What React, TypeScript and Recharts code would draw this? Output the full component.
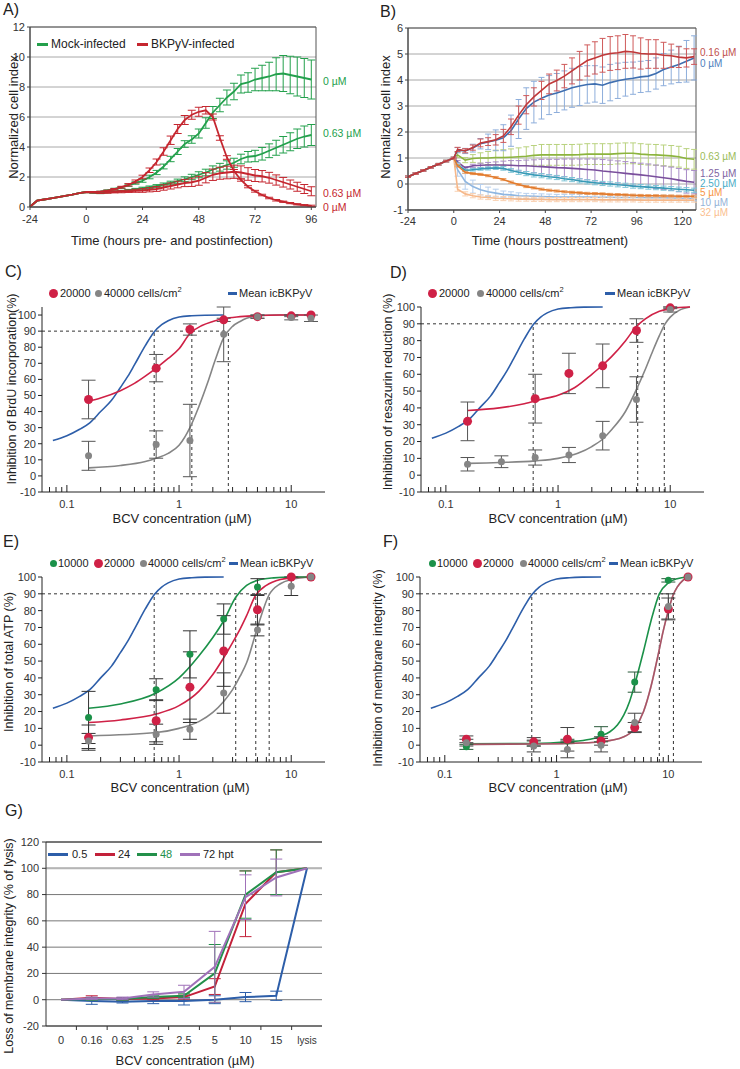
import React from 'react';
import {
  LineChart, ComposedChart, Line, Scatter, XAxis, YAxis, CartesianGrid,
  ErrorBar, ReferenceLine, ReferenceArea,
} from 'recharts';

const FONT = '"Liberation Sans", Arial, Helvetica, sans-serif';
const INK = '#222';
const TICK = { fontSize: 11, fill: '#333' };

// ---------- A) cell index, mock vs BKPyV ----------
const TIME_A = [-24, -21, -18, -15, -12, -9, -6, -3, 0, 3, 6, 9, 12, 15, 18, 21, 24, 27, 30, 33, 36, 39, 42, 45, 48, 51, 54, 57, 60, 63, 66, 69, 72, 75, 78, 81, 84, 87, 90, 93, 96];
const TICKS_A = [-24, 0, 24, 48, 72, 96];
const PRE_A = [0.02, 0.42, 0.5, 0.58, 0.66, 0.74, 0.82, 0.92, 1.0];
const MOCK_0 = [1.0, 1.02, 1.1, 1.2, 1.3, 1.45, 1.6, 1.75, 2.0, 2.3, 2.7, 3.2, 3.7, 4.2, 4.5, 4.9, 5.6, 6.3, 6.8, 7.3, 7.7, 8.2, 8.3, 8.5, 8.6, 8.7, 8.85, 8.9, 8.8, 8.7, 8.6, 8.5];
const MOCK_0_ERR = [0.02, 0.03, 0.04, 0.05, 0.06, 0.07, 0.08, 0.1, 0.12, 0.14, 0.16, 0.18, 0.2, 0.22, 0.25, 0.3, 0.35, 0.4, 0.45, 0.5, 0.55, 0.6, 0.65, 0.75, 0.85, 0.95, 1.1, 1.2, 1.25, 1.3, 1.3, 1.3];
const MOCK_063 = [0.95, 0.92, 0.98, 1.02, 1.06, 1.12, 1.18, 1.25, 1.32, 1.4, 1.5, 1.6, 1.72, 1.85, 2.0, 2.15, 2.3, 2.5, 2.65, 2.8, 2.95, 3.2, 3.35, 3.4, 3.55, 3.75, 3.95, 4.15, 4.35, 4.55, 4.7, 4.8];
const MOCK_063_ERR = [0.03, 0.03, 0.04, 0.04, 0.05, 0.05, 0.06, 0.07, 0.08, 0.09, 0.1, 0.12, 0.14, 0.16, 0.18, 0.2, 0.22, 0.24, 0.26, 0.28, 0.3, 0.32, 0.35, 0.38, 0.42, 0.46, 0.5, 0.55, 0.6, 0.65, 0.7, 0.7];
const BK_0 = [1.0, 1.02, 1.08, 1.18, 1.32, 1.48, 1.7, 2.0, 2.45, 3.0, 3.7, 4.45, 5.2, 5.8, 6.15, 6.35, 6.45, 6.0, 4.6, 3.3, 2.4, 1.8, 1.35, 1.05, 0.8, 0.6, 0.45, 0.35, 0.26, 0.18, 0.12, 0.08];
const BK_0_ERR = [0.03, 0.03, 0.04, 0.05, 0.06, 0.08, 0.1, 0.12, 0.15, 0.2, 0.25, 0.28, 0.3, 0.3, 0.3, 0.3, 0.25, 0.2, 0.15, 0.12, 0.1, 0.08, 0.07, 0.06, 0.05, 0.05, 0.05, 0.04, 0.04, 0.04, 0.04, 0.04];
const BK_063 = [0.97, 0.95, 0.97, 1.0, 1.02, 1.05, 1.08, 1.1, 1.15, 1.2, 1.3, 1.4, 1.5, 1.6, 1.65, 1.75, 1.95, 2.15, 2.25, 2.3, 2.35, 2.3, 2.2, 2.1, 2.05, 1.95, 1.8, 1.65, 1.5, 1.35, 1.2, 1.05];
const BK_063_ERR = [0.03, 0.04, 0.05, 0.06, 0.07, 0.08, 0.1, 0.12, 0.14, 0.16, 0.18, 0.2, 0.22, 0.24, 0.28, 0.3, 0.34, 0.38, 0.4, 0.42, 0.44, 0.44, 0.42, 0.4, 0.38, 0.36, 0.34, 0.32, 0.3, 0.3, 0.3, 0.3];

// ---------- B) cell index after BCV treatment ----------
const TIME_B = [-24, -20, -16, -12, -8, -4, 0, 2, 6, 10, 14, 18, 22, 26, 30, 34, 38, 42, 46, 50, 54, 58, 62, 66, 70, 74, 78, 82, 86, 90, 94, 98, 102, 106, 110, 114, 118, 122, 126];
const TICKS_B = [-24, 0, 24, 48, 72, 96, 120];
const PRE_B = [0.28, 0.4, 0.52, 0.64, 0.76, 0.88, 1.0];
const PRE_B_ERR = [0.03, 0.03, 0.03, 0.03, 0.03, 0.03, 0.03];
const B_0 = [1.3, 1.27, 1.38, 1.55, 1.62, 1.68, 1.78, 2.05, 2.5, 2.9, 3.15, 3.3, 3.42, 3.5, 3.6, 3.7, 3.77, 3.83, 3.85, 3.8, 3.9, 3.97, 4.03, 4.07, 4.12, 4.15, 4.25, 4.4, 4.5, 4.6, 4.72, 4.85];
const B_0_ERR = [0.1, 0.1, 0.15, 0.2, 0.3, 0.4, 0.5, 0.6, 0.75, 0.8, 0.8, 0.8, 0.75, 0.75, 0.75, 0.75, 0.75, 0.72, 0.7, 0.7, 0.7, 0.68, 0.65, 0.62, 0.6, 0.6, 0.6, 0.62, 0.65, 0.7, 0.8, 0.85];
const B_016 = [1.33, 1.28, 1.4, 1.58, 1.63, 1.7, 1.85, 2.2, 2.65, 3.05, 3.35, 3.6, 3.85, 3.98, 4.15, 4.35, 4.55, 4.75, 4.85, 4.95, 5.02, 5.05, 5.1, 5.08, 5.02, 5.0, 5.0, 4.95, 4.93, 4.88, 4.85, 4.9];
const B_016_ERR = [0.08, 0.08, 0.1, 0.15, 0.15, 0.2, 0.25, 0.3, 0.35, 0.35, 0.35, 0.35, 0.38, 0.4, 0.45, 0.5, 0.55, 0.6, 0.62, 0.65, 0.65, 0.65, 0.65, 0.62, 0.6, 0.55, 0.55, 0.5, 0.45, 0.4, 0.35, 0.3];
const B_063 = [1.12, 0.92, 0.98, 1.0, 1.0, 1.02, 1.02, 1.03, 1.05, 1.07, 1.1, 1.12, 1.12, 1.12, 1.12, 1.12, 1.13, 1.15, 1.15, 1.15, 1.15, 1.17, 1.18, 1.18, 1.15, 1.13, 1.12, 1.1, 1.08, 1.05, 0.98, 0.95];
const B_063_ERR = [0.1, 0.1, 0.15, 0.2, 0.25, 0.28, 0.3, 0.32, 0.34, 0.36, 0.38, 0.4, 0.4, 0.4, 0.4, 0.4, 0.4, 0.4, 0.4, 0.4, 0.4, 0.4, 0.4, 0.4, 0.4, 0.4, 0.4, 0.4, 0.4, 0.4, 0.38, 0.38];
const B_125 = [0.85, 0.62, 0.7, 0.72, 0.73, 0.73, 0.73, 0.72, 0.7, 0.7, 0.68, 0.67, 0.65, 0.63, 0.62, 0.6, 0.58, 0.56, 0.54, 0.5, 0.47, 0.44, 0.41, 0.38, 0.35, 0.32, 0.28, 0.24, 0.2, 0.15, 0.1, 0.07];
const B_125_ERR = [0.05, 0.05, 0.06, 0.08, 0.1, 0.12, 0.15, 0.18, 0.2, 0.22, 0.25, 0.28, 0.3, 0.32, 0.34, 0.36, 0.38, 0.4, 0.42, 0.44, 0.45, 0.45, 0.45, 0.45, 0.45, 0.45, 0.45, 0.45, 0.45, 0.45, 0.45, 0.45];
const B_250 = [0.75, 0.52, 0.55, 0.58, 0.6, 0.62, 0.6, 0.52, 0.45, 0.4, 0.35, 0.32, 0.28, 0.25, 0.2, 0.17, 0.12, 0.08, 0.05, 0.02, 0.0, -0.03, -0.05, -0.08, -0.1, -0.12, -0.14, -0.16, -0.18, -0.2, -0.22, -0.24];
const B_250_ERR = [0.05, 0.05, 0.05, 0.05, 0.06, 0.06, 0.07, 0.07, 0.08, 0.08, 0.08, 0.08, 0.08, 0.08, 0.08, 0.08, 0.08, 0.08, 0.08, 0.08, 0.08, 0.08, 0.08, 0.08, 0.08, 0.08, 0.08, 0.08, 0.08, 0.08, 0.08, 0.08];
const B_5 = [0.7, 0.45, 0.4, 0.37, 0.32, 0.25, 0.17, 0.07, -0.02, -0.1, -0.15, -0.2, -0.24, -0.27, -0.3, -0.32, -0.34, -0.36, -0.37, -0.38, -0.4, -0.41, -0.42, -0.43, -0.44, -0.45, -0.45, -0.46, -0.46, -0.47, -0.47, -0.47];
const B_5_ERR = [0.04, 0.04, 0.04, 0.04, 0.04, 0.04, 0.04, 0.04, 0.04, 0.04, 0.04, 0.04, 0.04, 0.04, 0.04, 0.04, 0.04, 0.04, 0.04, 0.04, 0.04, 0.04, 0.04, 0.04, 0.04, 0.04, 0.04, 0.04, 0.04, 0.04, 0.04, 0.04];
const B_10 = [0.55, 0.1, -0.1, -0.22, -0.3, -0.35, -0.4, -0.42, -0.45, -0.46, -0.47, -0.48, -0.49, -0.5, -0.5, -0.5, -0.5, -0.5, -0.51, -0.51, -0.51, -0.52, -0.52, -0.52, -0.52, -0.53, -0.53, -0.53, -0.54, -0.54, -0.55, -0.55];
const B_10_ERR = [0.25, 0.3, 0.25, 0.2, 0.18, 0.15, 0.13, 0.12, 0.11, 0.1, 0.1, 0.1, 0.1, 0.1, 0.1, 0.1, 0.1, 0.1, 0.1, 0.1, 0.1, 0.1, 0.1, 0.1, 0.1, 0.1, 0.1, 0.1, 0.1, 0.1, 0.1, 0.1];
const B_32 = [-0.2, -0.38, -0.45, -0.5, -0.52, -0.55, -0.56, -0.57, -0.58, -0.58, -0.59, -0.59, -0.6, -0.6, -0.6, -0.6, -0.6, -0.6, -0.6, -0.61, -0.61, -0.61, -0.61, -0.61, -0.62, -0.62, -0.62, -0.62, -0.62, -0.62, -0.62, -0.62];
const B_32_ERR = [0.08, 0.08, 0.08, 0.08, 0.08, 0.08, 0.08, 0.08, 0.08, 0.08, 0.08, 0.08, 0.08, 0.08, 0.08, 0.08, 0.08, 0.08, 0.08, 0.08, 0.08, 0.08, 0.08, 0.08, 0.08, 0.08, 0.08, 0.08, 0.08, 0.08, 0.08, 0.08];

// ---------- C-F) dose response (BCV concentration, log axis) ----------
const CONC = [0.156, 0.625, 1.25, 2.5, 5, 10, 15];
const CONC_D_GRAY = [0.156, 0.3125, 0.625, 1.25, 2.5, 5, 10];
const CONC_D_RED = [0.156, 0.625, 1.25, 2.5, 5, 10];
const LOG_TICKS = [0.07, 0.08, 0.09, 0.1, 0.2, 0.3, 0.4, 0.5, 0.6, 0.7, 0.8, 0.9, 1, 2, 3, 4, 5, 6, 7, 8, 9, 10];
const LOG_LABELS = [0.1, 1, 10];
const PCT_TICKS = [-10, 0, 10, 20, 30, 40, 50, 60, 70, 80, 90, 100];

// mean icBKPyV curve (same in C-F)
const ICBK_X = [0.075, 0.1, 0.13, 0.16, 0.2, 0.25, 0.3, 0.35, 0.4, 0.5, 0.6, 0.7, 0.8, 1, 1.3, 1.7, 2.5];
const ICBK_Y = [22, 25, 29, 33, 40, 47, 55, 62, 69, 81, 89.5, 94, 96.5, 98.8, 99.6, 99.9, 100];

// C) BrdU
const C_RED = [47.5, 67, 91, 97, 99, 99.5, 100];
const C_RED_ERR = [12, 8.5, 3.5, 1, 1, 0.5, 0];
const C_GRAY = [12.5, 19.5, 22, 88, 99, 98.5, 98];
const C_GRAY_ERR = [9, 8.5, 22.5, 17, 1, 1.5, 2];
const C_RED_FIT_X = [0.156, 0.2, 0.3, 0.4, 0.5, 0.625, 0.8, 1, 1.25, 1.6, 2, 2.5, 3.5, 5, 8, 15];
const C_RED_FIT_Y = [46.5, 48.5, 53, 57.5, 62, 67, 73, 79, 88.5, 93.5, 96, 97.8, 99, 99.7, 100, 100];
const C_GRAY_FIT_X = [0.156, 0.3, 0.5, 0.625, 0.8, 1, 1.25, 1.5, 1.8, 2.1, 2.5, 3, 3.5, 4, 5, 7, 15];
const C_GRAY_FIT_Y = [5, 6.5, 9, 11, 14, 19, 30, 43, 58, 72, 86, 93, 96, 98, 99.5, 100, 100];
const C_IC90 = [0.6, 1.3, 2.75];

// D) resazurin
const D_RED = [32, 45.5, 60.5, 65, 86, 99.5];
const D_RED_ERR = [11.5, 14.5, 12, 13, 7, 0.5];
const D_GRAY = [6.5, 8, 10.5, 12, 23.5, 45, 98.5];
const D_GRAY_ERR = [4, 3.5, 4.5, 4.5, 8.5, 13.5, 1.5];
const D_RED_FIT_X = [0.156, 0.3, 0.5, 0.7, 1, 1.4, 2, 2.5, 3, 4, 5, 6, 8, 10, 12, 15];
const D_RED_FIT_Y = [38.5, 40, 42.5, 45, 47.5, 52, 60, 65.5, 70.5, 80, 88.5, 93, 97.5, 99, 99.7, 100];
const D_GRAY_FIT_X = [0.156, 0.3, 0.625, 1, 1.5, 2, 2.5, 3, 4, 5, 6, 7, 8, 9, 10, 12, 15];
const D_GRAY_FIT_Y = [7, 7.5, 8.5, 10, 13, 17, 21.5, 27, 38, 51, 63, 74, 83, 90, 94, 98, 100];
const D_IC90 = [0.6, 5.13, 8.85];

// E) total ATP
const E_GREEN = [16.5, 33, 54, 75, 94, 100, 100];
const E_GREEN_ERR = [15.5, 6.5, 14, 9, 5, 0, 0];
const E_RED = [4.5, 14.5, 34.5, 56, 80.5, 100, 100];
const E_RED_ERR = [7.5, 12.5, 21, 21, 9, 0, 0];
const E_GRAY = [2.5, 6.5, 9.5, 31, 68.5, 94.5, 100];
const E_GRAY_ERR = [4.5, 6, 6, 12, 3.5, 5.5, 0];
const E_GREEN_FIT_X = [0.156, 0.3, 0.625, 1, 1.5, 2, 2.5, 3.2, 4, 5, 7, 10, 15];
const E_GREEN_FIT_Y = [22, 24.5, 31, 40, 53, 64, 74, 88, 95, 98, 99.5, 100, 100];
const E_RED_FIT_X = [0.156, 0.3, 0.625, 1, 1.5, 2, 2.5, 3, 3.5, 4, 4.8, 6, 8, 10, 15];
const E_RED_FIT_Y = [13.5, 15, 18.5, 23.5, 32, 42, 52, 61, 69, 77, 89, 95, 98.5, 99.5, 100];
const E_GRAY_FIT_X = [0.156, 0.625, 1, 1.5, 2, 2.5, 3, 3.5, 4, 5, 6.3, 8, 10, 15];
const E_GRAY_FIT_Y = [5.5, 7.5, 10, 14, 19.5, 26, 33, 41, 49, 70, 89, 96, 98.5, 100];
const E_IC90 = [0.6, 3.2, 4.83, 6.36];

// F) membrane integrity
const F_GREEN = [-1, 1, 2.5, 6.5, 37.5, 98, 100];
const F_GREEN_ERR = [1.5, 1.5, 1, 4.5, 6, 1, 0];
const F_RED = [3.5, 2, 3.5, 2.5, 10.5, 81, 100];
const F_RED_ERR = [2, 2.5, 7, 2.5, 3, 6.5, 0];
const F_GRAY = [1.5, -0.5, -2.5, 0, 13.5, 82.5, 100];
const F_GRAY_ERR = [2, 3.5, 5, 4, 5.5, 7.5, 0];
const F_GREEN_FIT_X = [0.156, 0.625, 1.25, 2, 2.5, 3, 3.5, 4, 4.5, 5, 6, 7, 8.3, 10, 12, 15];
const F_GREEN_FIT_Y = [0.8, 1, 2, 3.5, 5.5, 8, 12, 18, 26, 36, 56, 74, 90, 96.5, 99, 100];
const F_RED_FIT_X = [0.156, 0.625, 1.25, 2.5, 4, 5, 6, 7, 8, 9, 10, 11, 12, 13.5, 15];
const F_RED_FIT_Y = [0.5, 0.7, 1, 2, 5, 10, 20, 35, 52, 68, 80, 89, 94, 98, 100];
const F_IC90 = [0.6, 8.3, 11.1];

// ---------- G) LDH release ----------
const G_CATS = ['0', '0.16', '0.63', '1.25', '2.5', '5', '10', '15', 'lysis'];
const G_05 = [0, -1, -1.5, -1, -1, 0, 2, 3, 100];
const G_05_ERR = [0, 2.5, 1, 2, 3, 3, 3.5, 3.5, 0];
const G_24 = [0, 1.5, 0.5, 1, 2, 10, 73, 97, 100];
const G_24_ERR = [0, 1.5, 1, 1, 1.5, 6, 25, 17, 0];
const G_48 = [0, 0.5, 0.5, 2, 3, 20, 80, 97, 100];
const G_48_ERR = [0, 1, 1, 1, 1.5, 22, 18, 17, 0];
const G_72 = [0, 1, 1, 4, 6, 25, 78, 93, 100];
const G_72_ERR = [0, 1, 1, 2, 5, 27, 17, 14, 0];

// colours
const A_GREEN = '#23a04c';
const A_RED = '#c5262f';
const RED = '#cf2146';
const GRAY = '#858585';
const GREEN = '#1b9149';
const BLUE = '#2d5ea9';

const B_SERIES = [
  { key: 'c063', label: '0.63 µM', values: B_063, err: B_063_ERR, color: '#8cb43e', errColor: '#b9d27f', labelColor: '#9bbb59', ly: 157 },
  { key: 'c125', label: '1.25 µM', values: B_125, err: B_125_ERR, color: '#7a4f9c', errColor: '#a88cc6', labelColor: '#8064a2', ly: 174 },
  { key: 'c250', label: '2.50 µM', values: B_250, err: B_250_ERR, color: '#379ab6', errColor: '#7ec4d6', labelColor: '#4bacc6', ly: 184 },
  { key: 'c10', label: '10 µM', values: B_10, err: B_10_ERR, color: '#8fb6e0', errColor: '#b6cfee', labelColor: '#95b3d7', ly: 202.5 },
  { key: 'c32', label: '32 µM', values: B_32, err: B_32_ERR, color: '#f6b88a', errColor: '#f9d0b0', labelColor: '#fac090', ly: 213 },
  { key: 'c5', label: '5 µM', values: B_5, err: B_5_ERR, color: '#e17a2c', errColor: '#eea46a', labelColor: '#f79646', ly: 193 },
  { key: 'c0', label: '0 µM', values: B_0, err: B_0_ERR, color: '#3f6fb0', errColor: '#8eaedb', labelColor: '#4f81bd', ly: 64 },
  { key: 'c016', label: '0.16 µM', values: B_016, err: B_016_ERR, color: '#c0393a', errColor: '#cf5a5a', labelColor: '#c0504d', ly: 52.5 },
];

const DATA_A = TIME_A.map((t, i) => {
  const j = i - PRE_A.length;
  if (j < 0) return { t, g0: PRE_A[i], g63: PRE_A[i], r0: PRE_A[i], r63: PRE_A[i] };
  return {
    t,
    g0: MOCK_0[j], g0e: MOCK_0_ERR[j],
    g63: MOCK_063[j], g63e: MOCK_063_ERR[j],
    r0: BK_0[j], r0e: BK_0_ERR[j],
    r63: BK_063[j], r63e: BK_063_ERR[j],
  };
});

const DATA_B = TIME_B.map((t, i) => {
  const row: any = { t };
  const j = i - PRE_B.length;
  B_SERIES.forEach((s) => {
    row[s.key] = j < 0 ? PRE_B[i] : s.values[j];
    row[s.key + 'e'] = j < 0 ? PRE_B_ERR[i] : s.err[j];
  });
  return row;
});

const DATA_G = G_CATS.map((c, i) => ({
  c,
  h05: G_05[i], h05e: G_05_ERR[i],
  h24: G_24[i], h24e: G_24_ERR[i],
  h48: G_48[i], h48e: G_48_ERR[i],
  h72: G_72[i], h72e: G_72_ERR[i],
}));

const curve = (xs: number[], ys: number[]) => xs.map((x, i) => ({ x, y: ys[i] }));
const points = (xs: number[], ys: number[], es: number[]) => xs.map((x, i) => ({ x, y: ys[i], e: es[i] }));

// ---------- small helpers ----------
const Txt = ({ x, y, children, color = INK, size = 11, center = false }: any) => (
  <div style={{
    position: 'absolute', left: x, top: y, color, fontSize: size, lineHeight: 1, whiteSpace: 'nowrap',
    transform: `translate(${center ? '-50%' : '0'}, -50%)`,
  }}>{children}</div>
);

const VTxt = ({ x, y, children, size = 12.5 }: any) => (
  <div style={{
    position: 'absolute', left: x, top: y, fontSize: size, lineHeight: 1, whiteSpace: 'nowrap', color: INK,
    transform: 'translate(-50%, -50%) rotate(-90deg)',
  }}>{children}</div>
);

const Dot = ({ x, y, color, r = 4 }: any) => (
  <div style={{ position: 'absolute', left: x - r, top: y - r, width: 2 * r, height: 2 * r, borderRadius: '50%', background: color }} />
);

const Dash = ({ x1, x2, y, color, w = 3 }: any) => (
  <div style={{ position: 'absolute', left: x1, top: y - w / 2, width: x2 - x1, height: w, background: color }} />
);

const Cells = () => (
  <span>cells/cm<span style={{ fontSize: 7.5, position: 'relative', top: -5 }}>2</span></span>
);

const LogTick = (p: any) => {
  const { x, y, payload } = p;
  const major = LOG_LABELS.includes(payload.value);
  return (
    <g>
      <line x1={x} x2={x} y1={y} y2={y - (major ? 7 : 5)} stroke="#222" />
      {major && <text x={x} y={y + 16} textAnchor="middle" fontSize={11} fill="#333">{payload.value}</text>}
    </g>
  );
};

const GTick = (p: any) => {
  const { x, y, payload, index } = p;
  return (
    <g>
      {index > 0 && <line x1={x - 15.35} x2={x - 15.35} y1={y} y2={y + 4} stroke="#333" />}
      <text x={x} y={y + 18} textAnchor="middle" fontSize={payload.value === 'lysis' ? 10 : 11} fill="#333">{payload.value}</text>
    </g>
  );
};

const dotShape = (color: string, r: number) => (p: any) => <circle cx={p.cx} cy={p.cy} r={r} fill={color} />;

const ic90Lines = (ic: number[]) => [
  <ReferenceLine key="h90" ifOverflow="visible" segment={[{ x: 0.06, y: 90 }, { x: ic[ic.length - 1], y: 90 }]} stroke="#333" strokeDasharray="3 3" />,
  ...ic.map((v, i) => (
    <ReferenceLine key={'v' + i} ifOverflow="visible" segment={[{ x: v, y: -10 }, { x: v, y: 90 }]} stroke="#333" strokeDasharray="3 3" />
  )),
];

const fit = (data: any[], color: string, key: string, opacity = 1) => (
  <Line key={key} data={data} dataKey="y" type="monotone" stroke={color} strokeOpacity={opacity} strokeWidth={1.6} dot={false} isAnimationActive={false} />
);

const pts = (data: any[], color: string, r: number, key: string, err = '#555') => (
  <Scatter key={key} data={data} dataKey="y" shape={dotShape(color, r)} isAnimationActive={false}>
    <ErrorBar dataKey="e" direction="y" width={7} stroke={err} strokeWidth={1} />
  </Scatter>
);

const DoseChart = ({ yAxisWidth, right, children }: any) => (
  <ComposedChart width={370} height={300} margin={{ top: 82, right, bottom: 0, left: 0 }}>
    <XAxis dataKey="x" type="number" scale="log" domain={[0.06, 20]} ticks={LOG_TICKS} interval={0}
      tick={(p: any) => <LogTick {...p} />} tickLine={false} tickSize={0} tickMargin={0} height={33} stroke="#222" />
    <YAxis type="number" domain={[-10, 100]} ticks={PCT_TICKS} interval={0} width={yAxisWidth}
      tickSize={4} tickMargin={2} tick={TICK} stroke="#222" />
    {children}
  </ComposedChart>
);

export default function App() {
  const icbk = curve(ICBK_X, ICBK_Y);
  return (
    <div style={{ position: 'absolute', left: 0, top: 0, width: 740, height: 1069, background: '#fff', fontFamily: FONT, color: INK, overflow: 'hidden' }}>
      {/* ---------- A ---------- */}
      <div style={{ position: 'absolute', left: 0, top: 0 }}>
        <LineChart width={370} height={250} data={DATA_A} margin={{ top: 27, right: 54, bottom: 0, left: 0 }}>
          <CartesianGrid vertical={false} stroke="#a8a8a8" />
          <XAxis dataKey="t" type="number" domain={[-24, 98]} ticks={TICKS_A} interval={0} height={43}
            tick={TICK} tickSize={3} tickMargin={5} stroke="#444" />
          <YAxis type="number" domain={[0, 12]} ticks={[0, 2, 4, 6, 8, 10, 12]} interval={0} width={30}
            tick={TICK} tickSize={3} stroke="#444" />
          <ReferenceArea x1={-24} x2={98} y1={0} y2={12} fill="none" stroke="#555" />
          <Line dataKey="g63" stroke={A_GREEN} strokeWidth={1.8} dot={false} isAnimationActive={false}>
            <ErrorBar dataKey="g63e" direction="y" width={4} stroke={A_GREEN} strokeWidth={1} />
          </Line>
          <Line dataKey="r63" stroke={A_RED} strokeWidth={1.8} dot={false} isAnimationActive={false}>
            <ErrorBar dataKey="r63e" direction="y" width={4} stroke={A_RED} strokeWidth={1} />
          </Line>
          <Line dataKey="g0" stroke={A_GREEN} strokeWidth={1.8} dot={false} isAnimationActive={false}>
            <ErrorBar dataKey="g0e" direction="y" width={4} stroke={A_GREEN} strokeWidth={1} />
          </Line>
          <Line dataKey="r0" stroke={A_RED} strokeWidth={1.8} dot={false} isAnimationActive={false}>
            <ErrorBar dataKey="r0e" direction="y" width={4} stroke={A_RED} strokeWidth={1} />
          </Line>
        </LineChart>
      </div>
      <Txt x={3} y={10} size={16}>A)</Txt>
      <VTxt x={13} y={117} size={13}>Normalized cell index</VTxt>
      <Txt x={172} y={240} size={13} center>Time (hours pre- and postinfection)</Txt>
      <Dash x1={37} x2={48} y={44} color={A_GREEN} />
      <Txt x={51} y={44} size={12}>Mock-infected</Txt>
      <Dash x1={137} x2={148} y={44} color={A_RED} />
      <Txt x={151} y={44} size={12}>BKPyV-infected</Txt>
      <Txt x={323} y={81} size={10.5} color={A_GREEN}>0 µM</Txt>
      <Txt x={323} y={133} size={10.5} color={A_GREEN}>0.63 µM</Txt>
      <Txt x={323} y={193} size={10.5} color={A_RED}>0.63 µM</Txt>
      <Txt x={323} y={207} size={10.5} color={A_RED}>0 µM</Txt>

      {/* ---------- B ---------- */}
      <div style={{ position: 'absolute', left: 370, top: 0 }}>
        <LineChart width={370} height={250} data={DATA_B} margin={{ top: 28, right: 44, bottom: 0, left: 0 }}>
          <CartesianGrid vertical={false} stroke="#a8a8a8" />
          <XAxis dataKey="t" type="number" domain={[-24, 127]} ticks={TICKS_B} interval={0} height={40}
            tick={TICK} tickSize={3} tickMargin={4} stroke="#444" />
          <YAxis type="number" domain={[-1, 6]} ticks={[-1, 0, 1, 2, 3, 4, 5, 6]} interval={0} width={38}
            tick={TICK} tickSize={3} stroke="#444" />
          <ReferenceArea x1={-24} x2={127} y1={-1} y2={6} fill="none" stroke="#555" />
          {B_SERIES.map((s) => (
            <Line key={s.key} dataKey={s.key} stroke={s.color} strokeWidth={1.6} dot={false} isAnimationActive={false}>
              <ErrorBar dataKey={s.key + 'e'} direction="y" width={3} stroke={s.errColor} strokeWidth={1} />
            </Line>
          ))}
        </LineChart>
      </div>
      <Txt x={380} y={12} size={16}>B)</Txt>
      <VTxt x={385} y={117} size={13}>Normalized cell index</VTxt>
      <Txt x={550} y={240} size={13} center>Time (hours posttreatment)</Txt>
      {B_SERIES.map((s) => (
        <Txt key={s.key} x={700} y={s.ly} size={10} color={s.labelColor}>{s.label}</Txt>
      ))}

      {/* ---------- C ---------- */}
      <div style={{ position: 'absolute', left: 0, top: 225 }}>
        <DoseChart yAxisWidth={42} right={45}>
          {ic90Lines(C_IC90)}
          {fit(icbk, BLUE, 'blue')}
          {fit(curve(C_GRAY_FIT_X, C_GRAY_FIT_Y), GRAY, 'gfit')}
          {fit(curve(C_RED_FIT_X, C_RED_FIT_Y), RED, 'rfit')}
          {pts(points(CONC, C_RED, C_RED_ERR), RED, 4.5, 'rp')}
          {pts(points(CONC, C_GRAY, C_GRAY_ERR), GRAY, 3.5, 'gp')}
        </DoseChart>
      </div>
      <Txt x={5} y={272} size={16}>C)</Txt>
      <VTxt x={12} y={389}>Inhibition of BrdU incorporation(%)</VTxt>
      <Txt x={182} y={518} size={13} center>BCV concentration (µM)</Txt>
      <Dot x={53} y={293} color={RED} r={4.5} />
      <Txt x={60} y={293}>20000</Txt>
      <Dot x={98} y={293} color={GRAY} r={3.5} />
      <Txt x={104} y={293}>40000 <Cells /></Txt>
      <Dash x1={228} x2={237} y={293} color={BLUE} />
      <Txt x={239} y={293}>Mean icBKPyV</Txt>

      {/* ---------- D ---------- */}
      <div style={{ position: 'absolute', left: 370, top: 225 }}>
        <DoseChart yAxisWidth={51} right={36}>
          {ic90Lines(D_IC90)}
          {fit(icbk, BLUE, 'blue')}
          {fit(curve(D_GRAY_FIT_X, D_GRAY_FIT_Y), GRAY, 'gfit')}
          {fit(curve(D_RED_FIT_X, D_RED_FIT_Y), RED, 'rfit')}
          {pts(points(CONC_D_RED, D_RED, D_RED_ERR), RED, 4.5, 'rp')}
          {pts(points(CONC_D_GRAY, D_GRAY, D_GRAY_ERR), GRAY, 3.5, 'gp')}
        </DoseChart>
      </div>
      <Txt x={390} y={273} size={16}>D)</Txt>
      <VTxt x={388} y={392}>Inhibition of resazurin reduction (%)</VTxt>
      <Txt x={558} y={518} size={13} center>BCV concentration (µM)</Txt>
      <Dot x={432} y={293} color={RED} r={4.5} />
      <Txt x={439} y={293}>20000</Txt>
      <Dot x={480} y={293} color={GRAY} r={3.5} />
      <Txt x={486} y={293}>40000 <Cells /></Txt>
      <Dash x1={605} x2={615} y={293} color={BLUE} />
      <Txt x={617} y={293}>Mean icBKPyV</Txt>

      {/* ---------- E ---------- */}
      <div style={{ position: 'absolute', left: 0, top: 495 }}>
        <DoseChart yAxisWidth={42} right={45}>
          {ic90Lines(E_IC90)}
          {fit(icbk, BLUE, 'blue')}
          {fit(curve(E_GRAY_FIT_X, E_GRAY_FIT_Y), GRAY, 'grfit')}
          {fit(curve(E_RED_FIT_X, E_RED_FIT_Y), RED, 'rfit')}
          {fit(curve(E_GREEN_FIT_X, E_GREEN_FIT_Y), GREEN, 'gfit')}
          {pts(points(CONC, E_GREEN, E_GREEN_ERR), GREEN, 3.5, 'gp', '#333')}
          {pts(points(CONC, E_RED, E_RED_ERR), RED, 4.5, 'rp', '#333')}
          {pts(points(CONC, E_GRAY, E_GRAY_ERR), GRAY, 3.5, 'grp', '#333')}
        </DoseChart>
      </div>
      <Txt x={3} y={542} size={16}>E)</Txt>
      <VTxt x={9} y={662}>Inhibition of total ATP (%)</VTxt>
      <Txt x={180} y={787} size={13} center>BCV concentration (µM)</Txt>
      <Dot x={53} y={563} color={GREEN} r={3.5} />
      <Txt x={58} y={563}>10000</Txt>
      <Dot x={98} y={563} color={RED} r={4.5} />
      <Txt x={104} y={563}>20000</Txt>
      <Dot x={143} y={563} color={GRAY} r={3.5} />
      <Txt x={148} y={563}>40000 <Cells /></Txt>
      <Dash x1={229} x2={238} y={563} color={BLUE} />
      <Txt x={240} y={563}>Mean icBKPyV</Txt>

      {/* ---------- F ---------- */}
      <div style={{ position: 'absolute', left: 370, top: 495 }}>
        <DoseChart yAxisWidth={50} right={38}>
          {ic90Lines(F_IC90)}
          {fit(icbk, BLUE, 'blue')}
          {fit(curve(F_GREEN_FIT_X, F_GREEN_FIT_Y), GREEN, 'gfit')}
          {fit(curve(F_RED_FIT_X, F_RED_FIT_Y), GRAY, 'grfit')}
          {fit(curve(F_RED_FIT_X, F_RED_FIT_Y), RED, 'rfit', 0.5)}
          {pts(points(CONC, F_GREEN, F_GREEN_ERR), GREEN, 3.5, 'gp', '#2a5a3a')}
          {pts(points(CONC, F_RED, F_RED_ERR), RED, 4.5, 'rp', '#444')}
          {pts(points(CONC, F_GRAY, F_GRAY_ERR), GRAY, 3.5, 'grp', '#444')}
        </DoseChart>
      </div>
      <Txt x={383} y={542} size={16}>F)</Txt>
      <VTxt x={378} y={668}>Inhibition of membrane integrity (%)</VTxt>
      <Txt x={558} y={787} size={13} center>BCV concentration (µM)</Txt>
      <Dot x={432} y={563} color={GREEN} r={3.5} />
      <Txt x={437} y={563}>10000</Txt>
      <Dot x={477} y={563} color={RED} r={4.5} />
      <Txt x={483} y={563}>20000</Txt>
      <Dot x={523} y={563} color={GRAY} r={3.5} />
      <Txt x={528} y={563}>40000 <Cells /></Txt>
      <Dash x1={609} x2={618} y={563} color={BLUE} />
      <Txt x={620} y={563}>Mean icBKPyV</Txt>

      {/* ---------- G ---------- */}
      <div style={{ position: 'absolute', left: 0, top: 800 }}>
        <LineChart width={370} height={269} data={DATA_G} margin={{ top: 42, right: 48, bottom: 0, left: 0 }}>
          <CartesianGrid vertical={false} stroke="#777" />
          <XAxis dataKey="c" padding={{ left: 15, right: 15 }} interval={0} height={43}
            tick={(p: any) => <GTick {...p} />} tickLine={false} tickSize={0} tickMargin={0} stroke="#333" />
          <YAxis type="number" domain={[-20, 120]} ticks={[-20, 0, 20, 40, 60, 80, 100, 120]} interval={0} width={46}
            tick={TICK} tickSize={4} tickMargin={3} stroke="#333" />
          <YAxis yAxisId="frame" orientation="right" type="number" domain={[-20, 120]} width={0}
            tick={false} tickLine={false} stroke="#333" />
          <ReferenceLine y={120} stroke="#333" />
          <ReferenceLine y={100} stroke="#b5b5b5" strokeWidth={2} />
          <Line dataKey="h05" stroke={BLUE} strokeWidth={2} dot={false} isAnimationActive={false}>
            <ErrorBar dataKey="h05e" direction="y" width={6} stroke={BLUE} strokeWidth={1} />
          </Line>
          <Line dataKey="h24" stroke="#c3213a" strokeWidth={2} dot={false} isAnimationActive={false}>
            <ErrorBar dataKey="h24e" direction="y" width={6} stroke="#c3213a" strokeWidth={1} />
          </Line>
          <Line dataKey="h48" stroke="#23904a" strokeWidth={2} dot={false} isAnimationActive={false}>
            <ErrorBar dataKey="h48e" direction="y" width={6} stroke="#23904a" strokeWidth={1} />
          </Line>
          <Line dataKey="h72" stroke="#a071b9" strokeWidth={2} dot={false} isAnimationActive={false}>
            <ErrorBar dataKey="h72e" direction="y" width={6} stroke="#a071b9" strokeWidth={1} />
          </Line>
        </LineChart>
      </div>
      <Txt x={5} y={811} size={16}>G)</Txt>
      <VTxt x={9} y={946}>Loss of membrane integrity (% of lysis)</VTxt>
      <Txt x={185} y={1060} size={13} center>BCV concentration (µM)</Txt>
      <Dash x1={48} x2={68} y={854} color={BLUE} />
      <Txt x={72} y={854}>0.5</Txt>
      <Dash x1={95} x2={115} y={854} color="#c3213a" />
      <Txt x={118} y={854}>24</Txt>
      <Dash x1={137} x2={157} y={854} color="#23904a" />
      <Txt x={160} y={854} color="#23904a">48</Txt>
      <Dash x1={180} x2={200} y={854} color="#a071b9" />
      <Txt x={203} y={854}>72 hpt</Txt>
    </div>
  );
}
